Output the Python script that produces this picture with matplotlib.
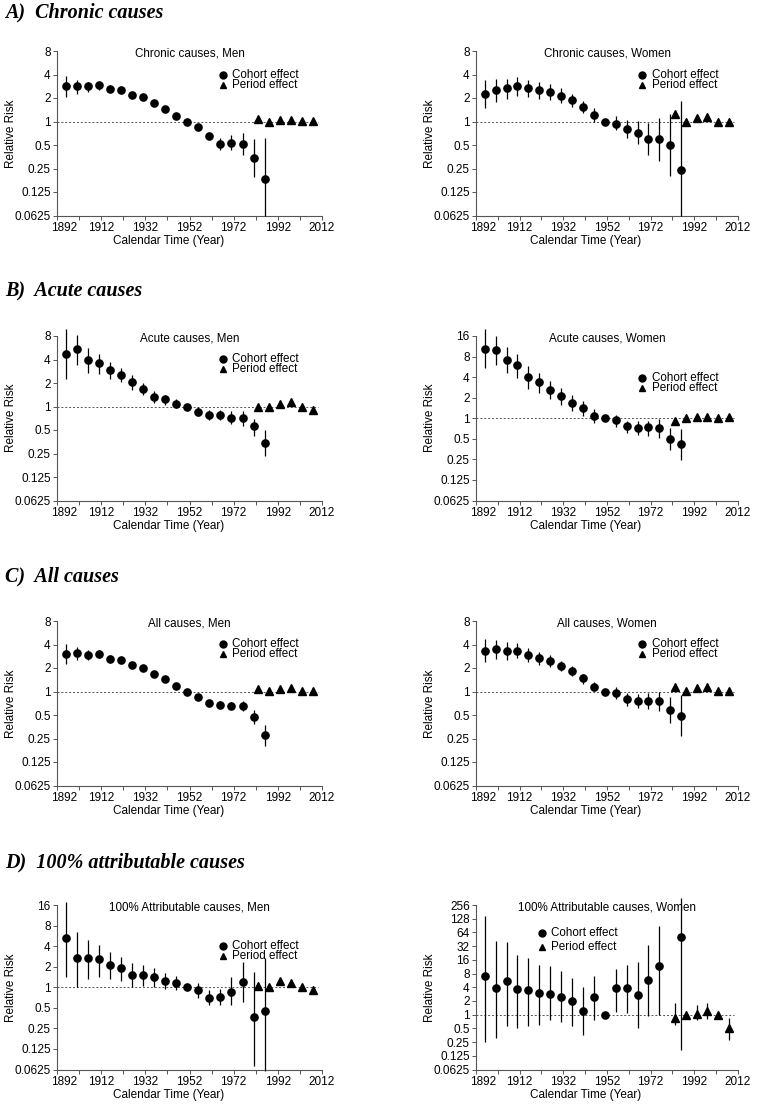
import matplotlib

matplotlib.use("Agg")
import matplotlib.pyplot as plt
import matplotlib.transforms as mtransforms
from matplotlib.ticker import FixedLocator, NullLocator, FuncFormatter

plt.rcParams["font.family"] = ["Liberation Sans", "DejaVu Sans"]

# x positions: birth cohorts and calendar periods
COHORT_YEARS = [1896, 1901, 1906, 1911, 1916, 1921, 1926, 1931, 1936, 1941,
                1946, 1951, 1956, 1961, 1966, 1971, 1976, 1981, 1986]
PERIOD_YEARS = [1983, 1988, 1993, 1998, 2003, 2008]
X_TICKS = [1892, 1912, 1932, 1952, 1972, 1992, 2012]
X_MINOR = [1902, 1922, 1942, 1962, 1982, 2002]

# (RR, lower, upper)
CHRONIC_MEN_COHORT = [
    (2.81, 2.03, 3.81), (2.81, 2.24, 3.39), (2.86, 2.40, 3.22), (2.92, 2.52, 3.22),
    (2.60, 2.40, 2.78), (2.50, 2.33, 2.65), (2.20, 2.05, 2.35), (2.03, 1.90, 2.17),
    (1.72, 1.62, 1.83), (1.44, 1.37, 1.52), (1.18, 1.12, 1.24), (1.0, 1.0, 1.0),
    (0.846, 0.80, 0.90), (0.649, 0.59, 0.72), (0.518, 0.43, 0.61), (0.538, 0.43, 0.668),
    (0.512, 0.37, 0.72), (0.339, 0.192, 0.594), (0.186, 0.0625, 0.606)]
CHRONIC_MEN_PERIOD = [
    (1.07, 1.03, 1.11), (1.0, 0.97, 1.03), (1.05, 1.02, 1.08),
    (1.05, 1.02, 1.08), (1.02, 0.99, 1.05), (1.02, 0.99, 1.05)]

CHRONIC_WOMEN_COHORT = [
    (2.28, 1.47, 3.45), (2.50, 1.79, 3.49), (2.65, 1.93, 3.55), (2.81, 2.11, 3.70),
    (2.65, 2.03, 3.45), (2.52, 1.93, 3.19), (2.42, 1.91, 3.01), (2.15, 1.73, 2.65),
    (1.86, 1.54, 2.24), (1.54, 1.27, 1.84), (1.22, 0.99, 1.47), (1.0, 1.0, 1.0),
    (0.94, 0.77, 1.17), (0.81, 0.62, 1.06), (0.71, 0.51, 1.01), (0.60, 0.37, 0.96),
    (0.59, 0.31, 1.11), (0.50, 0.20, 1.24), (0.238, 0.0625, 1.84)]
CHRONIC_WOMEN_PERIOD = [
    (1.24, 1.17, 1.31), (1.0, 0.97, 1.03), (1.11, 1.05, 1.17),
    (1.13, 1.07, 1.19), (1.0, 0.96, 1.04), (1.0, 0.93, 1.08)]

ACUTE_MEN_COHORT = [
    (4.68, 2.22, 9.9), (5.53, 3.45, 8.36), (3.92, 2.70, 5.58), (3.56, 2.57, 4.73),
    (2.92, 2.22, 3.73), (2.55, 2.05, 3.13), (2.03, 1.65, 2.50), (1.70, 1.42, 2.01),
    (1.33, 1.11, 1.56), (1.24, 1.06, 1.42), (1.08, 0.96, 1.23), (1.0, 1.0, 1.0),
    (0.855, 0.75, 0.98), (0.775, 0.68, 0.90), (0.775, 0.67, 0.915), (0.716, 0.59, 0.87),
    (0.71, 0.57, 0.87), (0.555, 0.425, 0.695), (0.342, 0.231, 0.507)]
ACUTE_MEN_PERIOD = [
    (1.0, 0.97, 1.03), (1.0, 0.97, 1.03), (1.07, 1.03, 1.11),
    (1.14, 1.09, 1.19), (1.0, 0.97, 1.03), (0.906, 0.87, 0.94)]

ACUTE_WOMEN_COHORT = [
    (10.46, 5.47, 20.2), (10.0, 5.98, 15.8), (7.15, 4.52, 11.07), (5.92, 3.91, 8.85),
    (4.0, 2.70, 5.78), (3.34, 2.31, 4.63), (2.59, 1.89, 3.46), (2.11, 1.58, 2.73),
    (1.67, 1.29, 2.16), (1.40, 1.08, 1.77), (1.09, 0.865, 1.35), (1.0, 1.0, 1.0),
    (0.935, 0.757, 1.11), (0.773, 0.618, 0.925), (0.723, 0.565, 0.915), (0.74, 0.553, 0.925),
    (0.715, 0.517, 0.967), (0.50, 0.346, 0.73), (0.418, 0.247, 0.707)]
ACUTE_WOMEN_PERIOD = [
    (0.904, 0.85, 0.96), (1.02, 0.98, 1.06), (1.03, 0.99, 1.07),
    (1.045, 1.0, 1.09), (1.02, 0.98, 1.06), (1.03, 0.94, 1.12)]

ALL_MEN_COHORT = [
    (3.03, 2.25, 4.08), (3.09, 2.56, 3.69), (2.97, 2.56, 3.45), (3.03, 2.67, 3.45),
    (2.64, 2.36, 2.94), (2.51, 2.32, 2.72), (2.19, 2.06, 2.33), (2.0, 1.90, 2.11),
    (1.66, 1.59, 1.73), (1.43, 1.37, 1.49), (1.17, 1.12, 1.22), (1.0, 1.0, 1.0),
    (0.853, 0.82, 0.89), (0.72, 0.66, 0.78), (0.68, 0.62, 0.75), (0.66, 0.59, 0.74),
    (0.65, 0.56, 0.76), (0.47, 0.38, 0.58), (0.28, 0.20, 0.37)]
ALL_MEN_PERIOD = [
    (1.08, 1.05, 1.11), (1.02, 0.99, 1.05), (1.08, 1.05, 1.11),
    (1.10, 1.07, 1.13), (1.02, 0.99, 1.05), (1.01, 0.98, 1.04)]

ALL_WOMEN_COHORT = [
    (3.35, 2.37, 4.73), (3.52, 2.61, 4.54), (3.35, 2.56, 4.30), (3.35, 2.67, 4.17),
    (2.91, 2.37, 3.63), (2.67, 2.19, 3.25), (2.49, 2.04, 2.97), (2.14, 1.81, 2.49),
    (1.83, 1.56, 2.10), (1.47, 1.24, 1.67), (1.15, 1.02, 1.33), (1.0, 1.0, 1.0),
    (0.96, 0.81, 1.13), (0.80, 0.66, 0.95), (0.76, 0.61, 0.94), (0.76, 0.60, 0.96),
    (0.75, 0.57, 0.98), (0.58, 0.40, 0.85), (0.48, 0.27, 0.90)]
ALL_WOMEN_PERIOD = [
    (1.13, 1.08, 1.18), (1.02, 0.98, 1.06), (1.10, 1.05, 1.15),
    (1.13, 1.08, 1.18), (1.02, 0.98, 1.06), (1.02, 0.96, 1.08)]

ATTR_MEN_COHORT = [
    (5.3, 1.4, 17.5), (2.65, 1.0, 6.5), (2.65, 1.3, 4.9), (2.56, 1.4, 4.16),
    (2.11, 1.3, 3.32), (1.89, 1.25, 2.8), (1.5, 1.0, 2.24), (1.5, 1.05, 2.11),
    (1.4, 1.0, 1.89), (1.25, 0.95, 1.6), (1.15, 0.9, 1.45), (1.0, 1.0, 1.0),
    (0.9, 0.7, 1.15), (0.7, 0.55, 0.9), (0.72, 0.55, 0.95), (0.85, 0.55, 1.4),
    (1.2, 0.6, 2.36), (0.37, 0.07, 1.7), (0.45, 0.06, 2.65)]
ATTR_MEN_PERIOD = [
    (1.05, 0.95, 1.15), (1.0, 0.95, 1.05), (1.25, 1.15, 1.35),
    (1.15, 1.07, 1.24), (1.0, 0.94, 1.06), (0.92, 0.86, 0.98)]

# 1981 cohort has no estimate for women
ATTR_WOMEN_COHORT = [
    (7.0, 0.25, 149), (3.8, 0.31, 42), (5.5, 0.55, 39), (3.6, 0.5, 20.7),
    (3.5, 0.57, 17.5), (3.0, 0.6, 12.5), (2.9, 0.77, 11.5), (2.5, 0.7, 9.0),
    (2.0, 0.55, 6.5), (1.2, 0.36, 4.0), (2.4, 0.77, 7.0), (1.0, 1.0, 1.0),
    (3.8, 1.15, 10.0), (3.8, 1.1, 12.5), (2.7, 0.5, 14.0), (5.8, 0.95, 34.0),
    (11.5, 1.0, 90.0), None, (52.0, 0.17, 357.0)]
ATTR_WOMEN_PERIOD = [
    (0.85, 0.6, 1.83), (1.0, 1.0, 1.0), (1.05, 0.77, 1.65),
    (1.2, 0.8, 1.83), (1.0, 0.95, 1.05), (0.52, 0.28, 0.85)]

SECTIONS = ["A)  Chronic causes", "B)  Acute causes", "C)  All causes",
            "D)  100% attributable causes"]


def draw_series(ax, years, rows, marker):
    pts = [(x, r) for x, r in zip(years, rows) if r is not None]
    xs = [p[0] for p in pts]
    rr = [p[1][0] for p in pts]
    lo = [p[1][0] - p[1][1] for p in pts]
    hi = [p[1][2] - p[1][0] for p in pts]
    eb = ax.errorbar(xs, rr, yerr=[lo, hi], fmt=marker, ms=5.2, color="black",
                     ecolor="black", elinewidth=0.9, capsize=0, zorder=3)
    for part in eb.lines[2]:
        part.set_clip_on(False)


def draw_panel(fig, ax, title, cohort, period, ytop, leg, leg_dy):
    ax.set_yscale("log", base=2)
    ax.set_ylim(0.0625, ytop)
    ax.set_xlim(1892, 2012)
    yt = [0.0625 * 2 ** k for k in range(40) if 0.0625 * 2 ** k <= ytop]
    ax.yaxis.set_major_locator(FixedLocator(yt))
    ax.yaxis.set_minor_locator(NullLocator())
    ax.yaxis.set_major_formatter(FuncFormatter(lambda v, p: f"{v:g}"))
    ax.xaxis.set_major_locator(FixedLocator(X_TICKS))
    ax.xaxis.set_minor_locator(FixedLocator(X_MINOR))

    ax.axhline(1, xmax=0.985, color="#555555", lw=0.7, ls=(0, (2, 2)), zorder=1)
    draw_series(ax, COHORT_YEARS, cohort, "o")
    draw_series(ax, PERIOD_YEARS, period, "^")

    for s in ("top", "right"):
        ax.spines[s].set_visible(False)
    for s in ("left", "bottom"):
        ax.spines[s].set_color("#555555")
        ax.spines[s].set_linewidth(0.8)
    ax.tick_params(which="both", direction="out", length=3, width=0.7,
                   color="#555555", labelsize=8.5, pad=1.5)

    ax.text(0.5, 0.985, title, transform=ax.transAxes, ha="center", va="center",
            fontsize=8.4)
    ax.set_xlabel("Calendar Time (Year)", fontsize=8.5, labelpad=3)
    ax.xaxis.set_label_coords(0.42, -0.12)
    ax.set_ylabel("Relative Risk", fontsize=8.5)
    ax.yaxis.set_label_coords(-0.152, 0.5)

    # manual legend
    lx, ly = leg
    ax.plot([lx], [ly], "o", ms=5, color="black", transform=ax.transAxes, clip_on=False)
    ax.plot([lx], [ly - leg_dy], "^", ms=5, color="black", transform=ax.transAxes,
            clip_on=False)
    ax.text(lx + 0.036, ly, "Cohort effect", transform=ax.transAxes, va="center",
            fontsize=8.4)
    ax.text(lx + 0.036, ly - leg_dy, "Period effect", transform=ax.transAxes,
            va="center", fontsize=8.4)

    # first year label sits a bit right of the axis corner
    first = ax.xaxis.get_major_ticks()[0].label1
    first.set_transform(first.get_transform() +
                        mtransforms.ScaledTranslation(0.07, 0, fig.dpi_scale_trans))


def main() -> None:
    W, H = 757, 1106
    fig = plt.figure(figsize=(W / 100, H / 100), dpi=100)

    tops = [51, 336, 621, 905]
    head_y = [12, 291.5, 576.5, 862.5]
    hgt = 164.5
    left_x, left_w = 57, 265
    right_x, right_w = 476, 262

    panels = [
        ("Chronic causes, Men", CHRONIC_MEN_COHORT, CHRONIC_MEN_PERIOD, 8, (0.626, 0.854), 0.061),
        ("Chronic causes, Women", CHRONIC_WOMEN_COHORT, CHRONIC_WOMEN_PERIOD, 8, (0.634, 0.854), 0.061),
        ("Acute causes, Men", ACUTE_MEN_COHORT, ACUTE_MEN_PERIOD, 8, (0.626, 0.862), 0.061),
        ("Acute causes, Women", ACUTE_WOMEN_COHORT, ACUTE_WOMEN_PERIOD, 16, (0.634, 0.747), 0.061),
        ("All causes, Men", ALL_MEN_COHORT, ALL_MEN_PERIOD, 8, (0.626, 0.860), 0.061),
        ("All causes, Women", ALL_WOMEN_COHORT, ALL_WOMEN_PERIOD, 8, (0.634, 0.860), 0.061),
        ("100% Attributable causes, Men", ATTR_MEN_COHORT, ATTR_MEN_PERIOD, 16, (0.626, 0.753), 0.061),
        ("100% Attributable causes, Women", ATTR_WOMEN_COHORT, ATTR_WOMEN_PERIOD, 256, (0.252, 0.832), 0.085),
    ]

    for i, (title, coh, per, ytop, leg, dy) in enumerate(panels):
        row, col = divmod(i, 2)
        x0, w = (left_x, left_w) if col == 0 else (right_x, right_w)
        top = tops[row]
        ax = fig.add_axes([x0 / W, 1 - (top + hgt) / H, w / W, hgt / H])
        draw_panel(fig, ax, title, coh, per, ytop, leg, dy)

    for label, y in zip(SECTIONS, head_y):
        fig.text(5 / W, 1 - y / H, label, family=["Liberation Serif", "DejaVu Serif"],
                 weight="bold", style="italic", fontsize=14.5, va="center")

    fig.savefig("out.png", dpi=100)
    plt.close(fig)


if __name__ == "__main__":
    main()
